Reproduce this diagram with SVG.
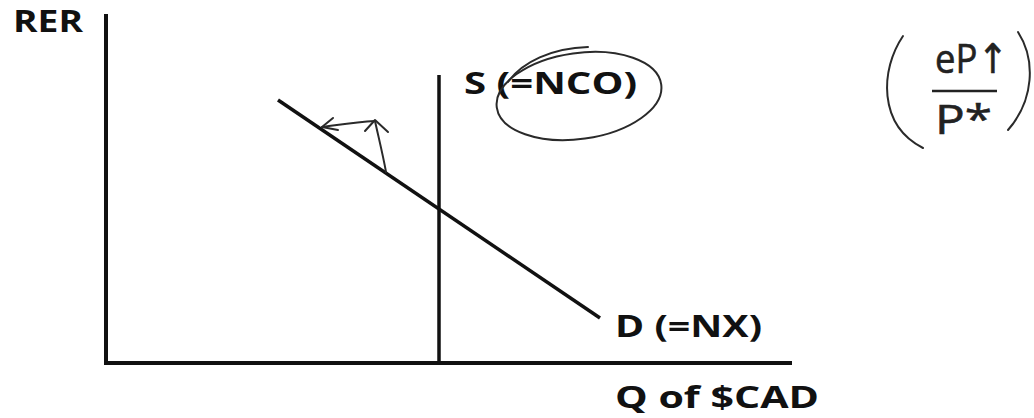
<svg xmlns="http://www.w3.org/2000/svg" width="1034" height="418" viewBox="0 0 1034 418">
<style>
.lbl{font-family:"Open Sans","Liberation Sans",sans-serif;font-weight:bold;font-size:30px;fill:#111}
.frm{font-family:"Open Sans","DejaVu Sans",sans-serif;font-size:41px;fill:#222;stroke:#222;stroke-width:0.6}
.axis{stroke:#111;stroke-width:4;fill:none;stroke-linecap:square}
.curve{stroke:#111;stroke-width:3.5;fill:none}
.hand{stroke:#2a2a2a;stroke-width:2;fill:none;stroke-linecap:round;stroke-linejoin:round}
</style>
<rect width="1034" height="418" fill="#fff"/>
<g id="axes">
<path class="axis" d="M106,16 V363 H790"/>
<text class="lbl" x="13" y="32" textLength="70" lengthAdjust="spacingAndGlyphs">RER</text>
<text class="lbl" x="615" y="408" textLength="204" lengthAdjust="spacingAndGlyphs">Q of $CAD</text>
</g>
<g id="connectors">
<line id="supply-line" class="curve" x1="439" y1="75" x2="439" y2="363"/>
<line id="demand-line" class="curve" x1="278" y1="100" x2="600" y2="318"/>
<path class="hand" d="M386,172 C383,155 378,135 375,121"/>
<path class="hand" d="M365,131 L375,120 L388,132"/>
<path class="hand" d="M375,121 C355,122 338,125 322,127"/>
<path class="hand" d="M333,118 L322,127 L338,130"/>
</g>
<g id="supply">
<text class="lbl" x="464" y="94" textLength="173" lengthAdjust="spacingAndGlyphs">S (=NCO)</text>
<ellipse class="hand" cx="579" cy="96" rx="83" ry="43" transform="rotate(-8 579 96)" stroke-width="1.6"/>
<path class="hand" d="M508,82 C522,62 552,48 588,47" stroke-width="1.4"/>
</g>
<g id="demand">
<text class="lbl" x="615" y="337" textLength="147" lengthAdjust="spacingAndGlyphs">D (=NX)</text>
</g>
<g id="formula">
<text class="frm" x="935" y="73" textLength="73" lengthAdjust="spacingAndGlyphs">eP↑</text>
<line x1="932" y1="91" x2="997" y2="91" stroke="#222" stroke-width="2.5"/>
<text class="frm" x="935" y="134" textLength="57" lengthAdjust="spacingAndGlyphs">P*</text>
<path class="hand" d="M903,36 C880,70 878,125 923,148"/>
<path class="hand" d="M1018,32 C1036,60 1034,100 1008,130"/>
</g>
</svg>
